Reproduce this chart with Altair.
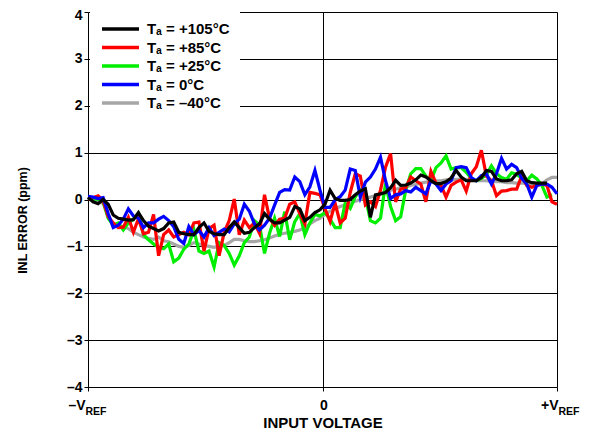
import altair as alt
import numpy as np
import pandas as pd

FONT = "Liberation Sans"

SERIES_LABELS = ["T\u2090 = +105°C", "T\u2090 = +85°C", "T\u2090 = +25°C", "T\u2090 = 0°C", "T\u2090 = \u201340°C"]
SERIES_COLORS = ["#000000", "#ff0000", "#00ee00", "#0000ff", "#a6a6a6"]
DRAW_ORDER = [4, 2, 1, 3, 0]  # gray first, black on top

# sampling grid across the input range (-VREF .. +VREF)
N_GRID = 94

inl_105 = [0.04, -0.05, -0.09, 0.00, -0.10, -0.33, -0.40, -0.42, -0.44, -0.43,
           -0.28, -0.45, -0.57, -0.62, -0.67, -0.62, -0.50, -0.48, -0.70, -0.73,
           -0.75, -0.75, -0.60, -0.50, -0.68, -0.73, -0.75, -0.75, -0.60, -0.48,
           -0.60, -0.72, -0.70, -0.60, -0.52, -0.30, -0.42, -0.50, -0.50, -0.44,
           -0.38, -0.15, -0.20, -0.45, -0.38, -0.28, -0.22, -0.10, 0.20, 0.02,
           -0.02, -0.02, 0.00, 0.10, 0.18, 0.23, -0.38, 0.10, 0.12, 0.15,
           0.25, 0.41, 0.30, 0.31, 0.35, 0.42, 0.52, 0.48, 0.40, 0.34,
           0.34, 0.38, 0.46, 0.62, 0.48, 0.40, 0.40, 0.40, 0.47, 0.62,
           0.60, 0.44, 0.40, 0.40, 0.42, 0.55, 0.60, 0.40, 0.36, 0.35,
           0.35, 0.35]

inl_85 = [0.01, 0.04, 0.08, -0.02, -0.36, -0.50, -0.60, -0.59, -0.38, -0.70,
          -0.41, -0.73, -0.70, -0.32, -1.20, -0.75, -0.65, -0.80, -0.75, -0.70,
          -0.75, -0.50, -0.48, -1.10, -0.62, -0.55, -1.20, -0.70, -0.45, 0.01,
          -0.75, -0.44, -0.60, -0.50, -0.72, 0.10, -0.40, -0.55, -0.42, -0.40,
          -0.10, -0.05, -0.30, -0.52, 0.15, 0.13, 0.10, -0.20, -0.47, -0.08,
          -0.50, -0.40, 0.15, 0.55, 0.50, -0.12, -0.05, -0.15, 0.20, 0.69,
          0.98, -0.05, 0.22, 0.25, 0.48, 0.40, 0.33, -0.05, 0.60, 0.35,
          0.30, 0.05, 0.30, 0.37, 0.42, 0.18, 0.55, 0.70, 1.05, 0.50,
          0.40, 0.08, 0.18, 0.19, 0.22, 0.22, 0.50, 0.30, 0.26, 0.30,
          0.33, 0.30, -0.05, -0.10]

inl_25 = [0.05, 0.01, 0.01, -0.05, -0.40, -0.55, -0.50, -0.65, -0.50, -0.42,
          -0.30, -0.75, -0.86, -0.95, -1.02, -1.05, -0.95, -1.33, -1.25, -1.06,
          -0.95, -0.65, -1.10, -1.15, -1.10, -1.44, -0.92, -0.98, -1.15, -1.40,
          -1.20, -0.92, -0.80, -0.45, -0.54, -1.15, -0.72, -0.40, -0.79, -0.26,
          -0.86, -0.47, -0.30, -0.75, -0.50, -0.32, -0.35, -0.28, -0.42, -0.60,
          -0.60, -0.08, -0.19, 0.06, 0.20, 0.06, -0.45, -0.50, -0.40, 0.34,
          -0.15, -0.45, -0.37, 0.20, 0.55, 0.66, 0.66, 0.50, 0.40, 0.68,
          0.78, 0.93, 0.65, 0.68, 0.68, 0.58, 0.45, 0.40, 0.45, 0.53,
          0.72, 0.55, 0.47, 0.43, 0.57, 0.54, 0.45, 0.40, 0.52, 0.44,
          0.30, 0.05, 0.10]

inl_0 = [0.07, 0.05, 0.02, 0.04, -0.30, -0.60, -0.55, -0.42, -0.20, -0.35,
         -0.40, -0.60, -0.50, -0.50, -0.42, -0.36, -0.45, -0.58, -0.85, -0.94,
         -0.58, -0.75, -0.66, -0.80, -0.60, -0.77, -0.70, -0.63, -0.69, -0.52,
         -0.42, -0.10, -0.25, -0.52, -0.65, -0.55, -0.40, -0.12, 0.15, 0.21,
         0.20, 0.48, 0.38, 0.10, 0.27, 0.62, 0.20, -0.17, -0.17, -0.01,
         0.06, 0.20, 0.65, 0.62, 0.05, 0.37, 0.48, 0.65, 0.90, 0.40,
         0.02, 0.10, 0.12, 0.19, 0.16, 0.26, 0.19, 0.12, 0.40, 0.33,
         0.19, 0.33, 0.40, 0.68, 0.70, 0.68, 0.47, 0.40, 0.51, 0.55,
         0.33, 0.55, 0.88, 0.65, 0.75, 0.68, 0.45, 0.33, 0.05, 0.30,
         0.33, 0.33, 0.26, 0.12]

inl_m40 = [0.03, -0.02, -0.05, -0.08, -0.35, -0.55, -0.55, -0.58, -0.62, -0.70,
           -0.75, -0.80, -0.83, -0.85, -0.80, -0.88, -0.90, -0.95, -1.00, -1.02,
           -0.98, -0.92, -0.95, -0.98, -1.00, -1.02, -1.00, -0.98, -0.92, -0.85,
           -0.85, -0.88, -0.90, -0.90, -0.88, -0.86, -0.82, -0.78, -0.74, -0.72,
           -0.70, -0.68, -0.65, -0.60, -0.52, -0.45, -0.40, -0.32, -0.25, -0.20,
           -0.15, -0.12, -0.08, -0.04, 0.00, 0.02, 0.05, 0.08, 0.12, 0.17,
           0.20, 0.22, 0.25, 0.27, 0.30, 0.32, 0.35, 0.37, 0.38, 0.40,
           0.40, 0.42, 0.42, 0.43, 0.43, 0.43, 0.42, 0.40, 0.40, 0.40,
           0.38, 0.38, 0.38, 0.36, 0.36, 0.35, 0.35, 0.35, 0.33, 0.32,
           0.33, 0.42, 0.47, 0.47]

X_TICKS = [-1, 0, 1]
Y_TICKS = [-4, -3, -2, -1, 0, 1, 2, 3, 4]

all_series = [inl_105, inl_85, inl_25, inl_0, inl_m40]
grid = np.linspace(-1.0, 1.0, N_GRID)

rows = []
for label, vals in zip(SERIES_LABELS, all_series):
    for i, v in enumerate(vals):
        rows.append({"x": float(grid[i]), "inl": v, "series": label, "idx": i})
df = pd.DataFrame(rows)

x_scale = alt.Scale(domain=[-1, 1], nice=False, zero=False)
y_scale = alt.Scale(domain=[-4, 4], nice=False)

x_axis_main = alt.Axis(
    values=X_TICKS,
    labelExpr="datum.value < 0 ? '\u2013V' : (datum.value > 0 ? '+V' : '0')",
    labelAlign={"condition": {"test": "datum.value == 0", "value": "center"}, "value": "right"},
    labelOffset={"condition": {"test": "datum.value < 0", "value": -3}, "value": 1},
    labelFont=FONT, labelFontSize=14, labelFontWeight="bold", labelColor="black",
    labelBaseline="top", labelPadding=7, labelFlush=False, labelOverlap=False,
    tickSize=4, tickColor="black", domain=False,
    grid=True, gridColor="black", gridOpacity=1, gridWidth=1,
    title="INPUT VOLTAGE", titleFont=FONT, titleFontSize=15, titleFontWeight="bold",
    titleColor="black", titleX=234.5, titleY=40, titleAlign="center", titleBaseline="alphabetic",
)

y_axis = alt.Axis(
    values=Y_TICKS,
    labelExpr="datum.value < 0 ? '\u2013' + abs(datum.value) : '' + datum.value",
    labelOffset={"condition": {"test": "datum.value == 4", "value": 3}, "value": 0},
    labelFont=FONT, labelFontSize=14, labelFontWeight="bold", labelColor="black",
    labelPadding=2, tickSize=4, tickColor="black", domain=False,
    grid=True, gridColor="black", gridOpacity=1, gridWidth=1,
    title="INL ERROR (ppm)", titleFont=FONT, titleFontSize=12.5, titleFontWeight="bold",
    titleColor="black", titleAngle=270, titleX=-62, titleY=208,
    titleAlign="center", titleBaseline="alphabetic",
)

legend = alt.Legend(
    orient="none", legendX=2, legendY=-1, title=None,
    fillColor="white", padding=10,
    symbolType="stroke", symbolSize=1369, symbolStrokeWidth=3.5,
    clipHeight=16, rowPadding=2.5,
    labelFont=FONT, labelFontSize=15, labelFontWeight="bold", labelColor="black",
    labelOffset=6, labelLimit=400,
)

color = alt.Color("series:N", scale=alt.Scale(domain=SERIES_LABELS, range=SERIES_COLORS),
                  legend=legend)

layers = []
for k in DRAW_ORDER:
    lab = SERIES_LABELS[k]
    layers.append(
        alt.Chart(df[df["series"] == lab])
        .mark_line(strokeWidth=3.2, strokeJoin="miter")
        .encode(
            x=alt.X("x:Q", scale=x_scale, axis=x_axis_main),
            y=alt.Y("inl:Q", scale=y_scale, axis=y_axis),
            color=color,
            order="idx:Q",
        )
    )
lines = alt.layer(*layers)

ref_df = pd.DataFrame({"pos": X_TICKS})
ref_axis = alt.Chart(ref_df).mark_point(opacity=0).encode(
    x=alt.X("pos:Q", scale=x_scale, axis=alt.Axis(
        orient="bottom", values=[-1, 1], labelExpr="'REF'",
        labelAlign="left",
        labelOffset={"condition": {"test": "datum.value < 0", "value": -3}, "value": 1},
        labelFont=FONT, labelFontSize=10.5, labelFontWeight="bold", labelColor="black",
        labelBaseline="top", labelPadding=19, labelFlush=False, labelOverlap=False,
        ticks=False, domain=False, grid=False, title=None,
    )),
)

chart = (
    alt.layer(lines, ref_axis)
    .resolve_axis(x="independent")
    .properties(
        width=469, height=375,
        autosize=alt.AutoSizeParams(type="none"),
        padding={"left": 80, "top": 4, "right": 25, "bottom": 45},
    )
    .configure_view(stroke="black", strokeWidth=1.5)
    .configure(font=FONT)
)

chart.save("out.html", embed_options={"renderer": "svg", "actions": False})
